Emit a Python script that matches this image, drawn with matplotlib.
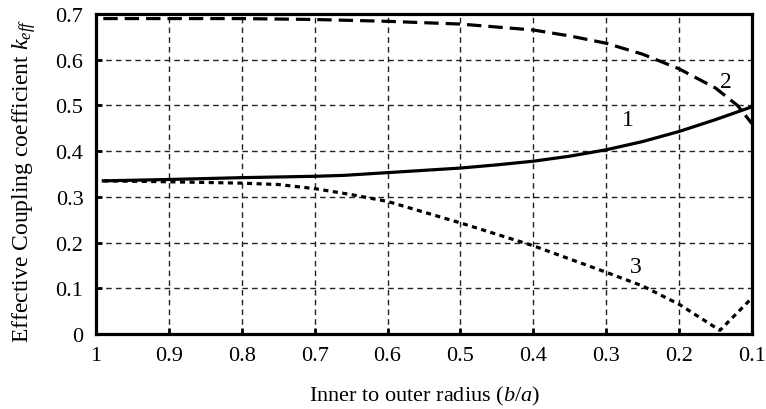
import matplotlib
matplotlib.use("Agg")
import matplotlib.pyplot as plt

plt.rcParams['font.family'] = ['Liberation Serif', 'DejaVu Serif']
plt.rcParams['mathtext.fontset'] = 'custom'
plt.rcParams['mathtext.it'] = 'Liberation Serif:italic'
plt.rcParams['mathtext.rm'] = 'Liberation Serif'

x1 = [0.99, 0.9, 0.8, 0.7, 0.66, 0.6, 0.5, 0.45, 0.4, 0.35, 0.3, 0.25, 0.2, 0.15, 0.1]
y1 = [0.335, 0.338, 0.342, 0.345, 0.347, 0.353, 0.363, 0.370, 0.378, 0.389, 0.403, 0.421, 0.443, 0.469, 0.497]

x2 = [0.99, 0.9, 0.8, 0.7, 0.6, 0.5, 0.4, 0.35, 0.3, 0.25, 0.2, 0.15, 0.12, 0.1]
y2 = [0.69, 0.69, 0.69, 0.688, 0.684, 0.678, 0.665, 0.652, 0.636, 0.612, 0.58, 0.538, 0.5, 0.46]

x3 = [0.99, 0.9, 0.8, 0.75, 0.7, 0.65, 0.6, 0.5, 0.4, 0.3, 0.25, 0.2, 0.144, 0.1]
y3 = [0.335, 0.333, 0.33, 0.327, 0.318, 0.305, 0.29, 0.243, 0.193, 0.135, 0.105, 0.065, 0.008, 0.079]

xticks = [1, 0.9, 0.8, 0.7, 0.6, 0.5, 0.4, 0.3, 0.2, 0.1]
xticklabels = ['1', '0.9', '0.8', '0.7', '0.6', '0.5', '0.4', '0.3', '0.2', '0.1']
yticks = [0, 0.1, 0.2, 0.3, 0.4, 0.5, 0.6, 0.7]
yticklabels = ['0', '0.1', '0.2', '0.3', '0.4', '0.5', '0.6', '0.7']

fig = plt.figure(figsize=(7.66, 4.10), dpi=100)
ax = fig.add_axes([96/766, 1-335/410, (752-96)/766, (335-15)/410])

ax.plot(x1, y1, color='black', lw=2.3, ls='-', zorder=3)
ax.plot(x2, y2, color='black', lw=2.3, ls=(0, (4.5, 2.2)), zorder=3)
ax.plot(x3, y3, color='black', lw=2.3, ls=(0, (1.6, 1.4)), zorder=3)

ax.text(0.27, 0.47, '1', fontsize=17, ha='center', va='center')
ax.text(0.136, 0.553, '2', fontsize=17, ha='center', va='center')
ax.text(0.259, 0.147, '3', fontsize=17, ha='center', va='center')

ax.set_xlim(1, 0.1)
ax.set_ylim(0, 0.7)
ax.set_xticks(xticks)
ax.set_xticklabels(xticklabels)
ax.set_yticks(yticks)
ax.set_yticklabels(yticklabels)
ax.tick_params(direction='in', length=4, width=2, labelsize=16, pad=9)
ax.grid(True, color='#222222', ls=(0, (4, 3)), lw=1.0)
for s in ax.spines.values():
    s.set_linewidth(2.3)

ax.set_xlabel('Inner to outer radius ($b/a$)', fontsize=16)
ax.set_ylabel('Effective Coupling coefficient $k_{eff}$', fontsize=17)
ax.xaxis.set_label_coords(0.5, -(396 - 335) / 320, transform=ax.transAxes)
ax.yaxis.set_label_coords(-(96 - 24) / 656, (335 - 181) / 320, transform=ax.transAxes)
ax.xaxis.label.set_va('center')
ax.yaxis.label.set_va('center')

fig.savefig('out.png', dpi=100)
